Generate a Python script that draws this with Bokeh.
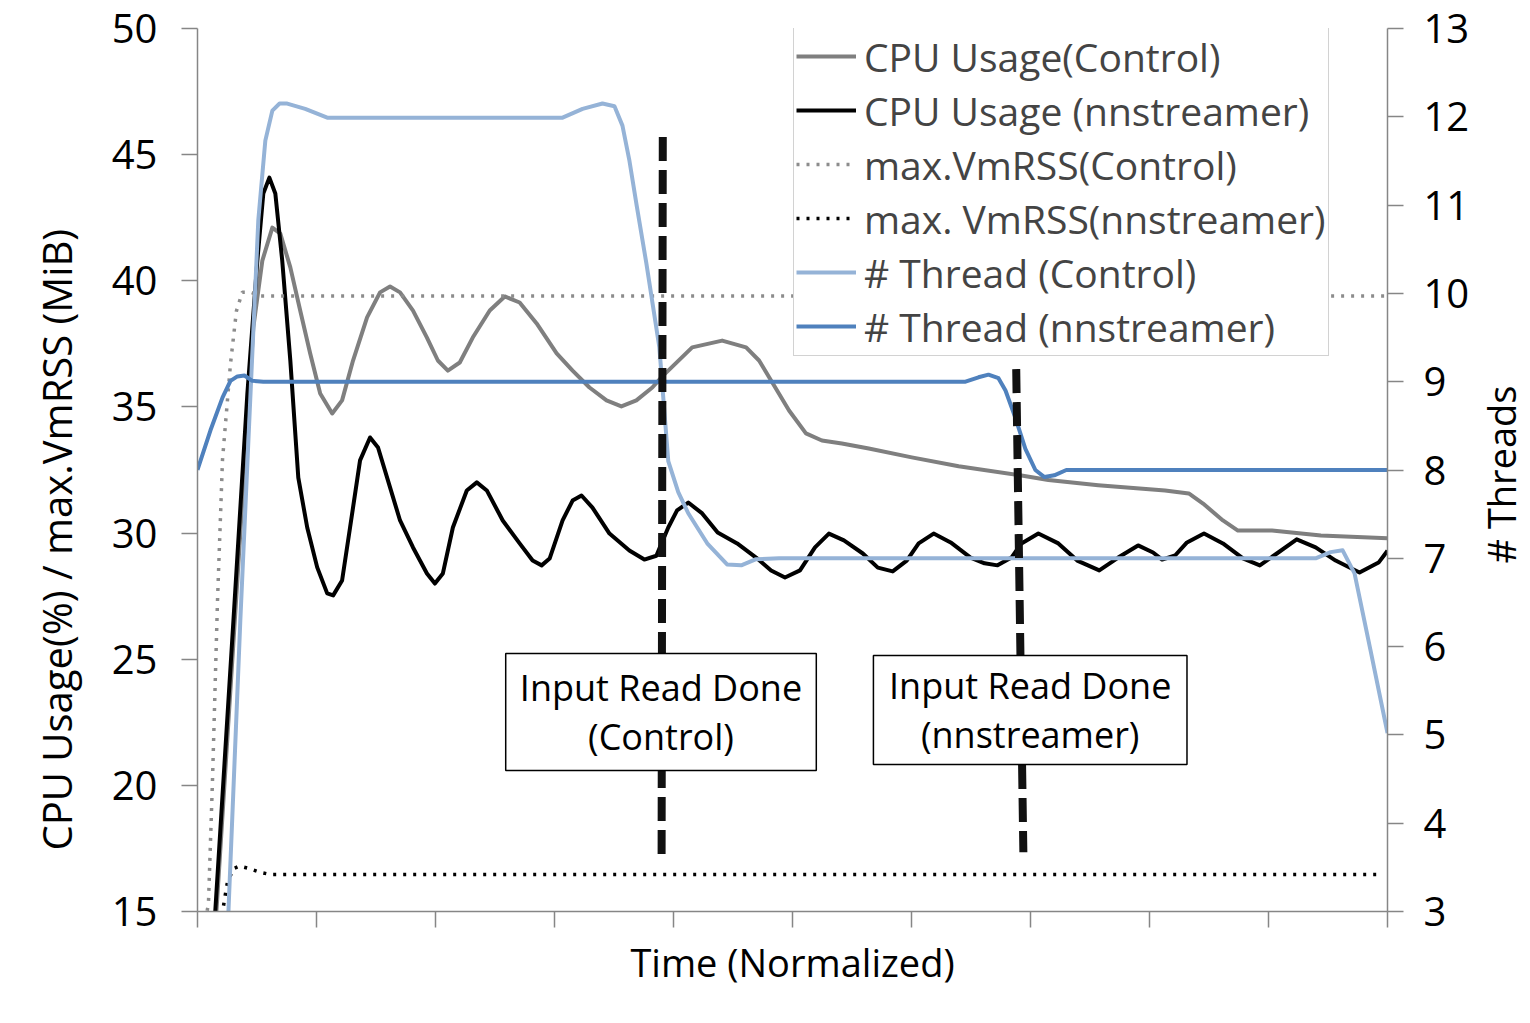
import math
from bokeh.plotting import figure
from bokeh.layouts import row
from bokeh.models import (Range1d, LinearAxis, Legend, LegendItem, BoxAnnotation,
                          Label, FixedTicker, ColumnDataSource, Title)
from bokeh.embed import file_html
from bokeh.resources import INLINE

# ---------------- data (x = normalized time 0..100) ----------------
cpu_ctrl_x = [1.51, 4.69, 5.45, 6.29, 6.96, 7.8, 8.63, 9.47, 10.31, 11.32, 12.15, 13.07, 14.25,
              15.34, 16.18, 17.02, 18.11, 19.28, 20.2, 21.04, 22.04, 23.13, 24.56, 25.82, 27.07,
              28.5, 30.18, 31.52, 32.94, 34.37, 35.62, 36.88, 38.22, 39.06, 41.57, 44.09, 46.1,
              47.19, 48.2, 49.71, 51.13, 52.47, 54.15, 56.41, 60.02, 63.96, 68.99, 71.5, 75.69,
              81.31, 83.3, 84.5, 86.17, 87.43, 90.3, 94.4, 100.0]
cpu_ctrl = [14.4, 38.15, 40.8, 42.11, 41.87, 40.53, 38.82, 37.12, 35.53, 34.74, 35.26, 36.84, 38.55,
            39.54, 39.77, 39.54, 38.82, 37.75, 36.84, 36.44, 36.76, 37.75, 38.82, 39.38, 39.14,
            38.31, 37.12, 36.44, 35.77, 35.26, 35.02, 35.26, 35.77, 36.21, 37.36, 37.63, 37.36,
            36.84, 36.05, 34.86, 33.95, 33.67, 33.55, 33.35, 33.0, 32.65, 32.3, 32.1, 31.9,
            31.69, 31.57, 31.17, 30.5, 30.1, 30.1, 29.9, 29.79]

cpu_nn_x = [1.42, 3.02, 4.19, 5.03, 5.53, 6.04, 6.54, 7.12, 7.8, 8.47, 9.22, 10.06, 10.9, 11.4,
            12.15, 12.82, 13.66, 14.5, 15.17, 16.18, 17.02, 18.11, 19.28, 19.95, 20.62, 21.46,
            22.63, 23.47, 24.31, 25.65, 27.07, 28.16, 28.92, 29.59, 30.68, 31.52, 32.27, 33.19,
            34.62, 36.29, 37.55, 38.56, 39.0, 39.56, 40.3, 41.24, 42.41, 43.71, 45.35, 46.94,
            48.2, 49.37, 50.63, 51.89, 53.06, 54.32, 55.91, 57.17, 58.42, 59.6, 60.6, 61.86,
            63.29, 64.96, 66.14, 67.23, 68.4, 69.24, 70.66, 72.34, 73.93, 75.78, 77.37, 79.04,
            80.3, 81.06, 82.15, 83.15, 84.58, 86.17, 87.85, 89.27, 90.7, 92.37, 93.96, 95.64,
            97.65, 99.25, 100.0]
cpu_nn = [14.45, 26.54, 35.53, 40.8, 43.46, 44.09, 43.46, 40.8, 36.84, 32.2, 30.22, 28.64, 27.61, 27.53,
          28.12, 30.22, 32.88, 33.79, 33.39, 31.81, 30.5, 29.43, 28.4, 28.0, 28.4, 30.22,
          31.69, 32.01, 31.69, 30.5, 29.59, 28.91, 28.72, 28.99, 30.5, 31.29, 31.49, 31.01,
          29.98, 29.31, 28.95, 29.1, 29.6, 30.22, 30.9, 31.21, 30.78, 30.02, 29.59, 29.03,
          28.52, 28.24, 28.52, 29.43, 29.98, 29.71, 29.19, 28.63, 28.48, 28.91, 29.59, 29.98,
          29.63, 29.03, 28.8, 28.72, 29.03, 29.59, 29.98, 29.59, 28.91, 28.52, 29.03, 29.51,
          29.23, 28.95, 29.11, 29.63, 29.98, 29.59, 29.0, 28.72, 29.19, 29.75, 29.43, 28.91,
          28.44, 28.83, 29.3]

rss_ctrl_x = [0.5, 0.92, 1.26, 1.68, 2.1, 2.77, 3.27, 3.77, 4.44, 5.28, 100.0]
rss_ctrl = [14.25, 15.3, 20.2, 27.3, 32.9, 36.7, 38.8, 39.55, 39.55, 39.4, 39.4]

rss_nn_x = [1.93, 2.26, 2.51, 3.02, 3.52, 4.36, 5.28, 6.12, 99.6]
rss_nn = [14.45, 15.45, 16.15, 16.7, 16.8, 16.7, 16.55, 16.47, 16.47]

thr_ctrl_x = [2.6, 3.6, 5.11, 5.7, 6.29, 6.9, 7.54, 9.05, 10.9, 30.68, 32.36, 34.03,
              35.04, 35.71, 36.3, 36.9, 37.72, 38.81, 39.56, 40.4, 41.24, 42.83, 44.5, 45.69,
              46.94, 48.87, 93.96, 95.22, 96.23, 97.23, 98.57, 100.0]
thr_ctrl = [3.0, 6.3, 10.83, 11.73, 12.07, 12.15, 12.15, 12.09, 11.99, 11.99, 12.09, 12.15,
            12.12, 11.9, 11.5, 11.0, 10.34, 9.39, 8.1, 7.75, 7.51, 7.17, 6.93, 6.92,
            6.99, 7.0, 7.0, 7.07, 7.09, 6.83, 5.96, 5.02]

thr_nn_x = [0.0, 1.09, 2.1, 2.77, 3.35, 3.94, 4.61, 5.53, 64.54, 65.63, 66.47, 67.31, 67.9,
            68.73, 69.57, 70.41, 71.17, 72.0, 73.01, 100.0]
thr_nn = [8.0, 8.45, 8.82, 9.01, 9.06, 9.07, 9.01, 9.0, 9.0, 9.05, 9.08, 9.04, 8.9,
          8.59, 8.24, 8.0, 7.92, 7.94, 8.0, 8.0]

# "Input Read Done" markers (start/end of dashed marker line, left-axis units)
event_x0 = [39.1, 68.8]
event_y0 = [45.7, 36.5]
event_x1 = [39.0, 69.4]
event_y1 = [17.2, 17.35]
event_labels = ["Input Read Done\n(Control)", "Input Read Done\n(nnstreamer)"]

left_ticks = [15, 20, 25, 30, 35, 40, 45, 50]
right_ticks = [3, 4, 5, 6, 7, 8, 9, 10, 11, 12, 13]
x_ticks = [0, 10, 20, 30, 40, 50, 60, 70, 80, 90, 100]

FONT = "Open Sans"
AXIS_GRAY = "#868686"

p = figure(width=1472, height=1023, output_backend="svg", toolbar_location=None,
           x_range=Range1d(0, 100), y_range=Range1d(15, 50),
           min_border_left=197, min_border_right=82, min_border_top=28, min_border_bottom=112)
p.outline_line_color = None
p.xgrid.visible = False
p.ygrid.visible = False
p.background_fill_color = "white"
p.border_fill_color = "white"

p.extra_y_ranges = {"thr": Range1d(3, 13)}

# axes
xa = p.xaxis[0]
xa.ticker = FixedTicker(ticks=x_ticks)
xa.major_label_overrides = {t: "" for t in x_ticks}
xa.major_label_standoff = 0
xa.axis_label = "Time (Normalized)"
xa.axis_label_text_font_size = "38px"
xa.axis_label_standoff = 8

ya = p.yaxis[0]
ya.ticker = FixedTicker(ticks=left_ticks)

ra = LinearAxis(y_range_name="thr", ticker=FixedTicker(ticks=right_ticks))
p.add_layout(ra, "right")

for ax in (xa, ya, ra):
    ax.axis_line_color = AXIS_GRAY
    ax.axis_line_width = 1.5
    ax.major_tick_line_color = AXIS_GRAY
    ax.major_tick_line_width = 1.5
    ax.major_tick_in = 0
    ax.major_tick_out = 16
    ax.minor_tick_line_color = None
    ax.major_label_text_font = FONT
    ax.major_label_text_color = "black"
    ax.axis_label_text_font = FONT
    ax.axis_label_text_font_style = "normal"
    ax.axis_label_text_color = "black"
for ax in (ya, ra):
    ax.major_label_text_font_size = "40px"
ya.major_label_standoff = 24
ra.major_label_standoff = 20

# left axis title (offset along the axis as in the original)
ytitle = Title(text="CPU Usage(%) / max.VmRSS (MiB)", align="left", offset=61,
               text_font=FONT, text_font_size="40px", text_font_style="normal",
               text_color="black", standoff=50)
p.add_layout(ytitle, "left")

# series
r_cc = p.line(cpu_ctrl_x, cpu_ctrl, line_color="#7f7f7f", line_width=4, line_join="round")
r_cn = p.line(cpu_nn_x, cpu_nn, line_color="#000000", line_width=4, line_join="round")
r_rc = p.line(rss_ctrl_x, rss_ctrl, line_color="#8c8c8c", line_width=3.5, line_dash="3 7")
r_rn = p.line(rss_nn_x, rss_nn, line_color="#000000", line_width=3.5, line_dash="3 7")
r_tc = p.line(thr_ctrl_x, thr_ctrl, line_color="#95b3d7", line_width=4, line_join="round",
              y_range_name="thr")
r_tn = p.line(thr_nn_x, thr_nn, line_color="#4f81bd", line_width=4, line_join="round",
              y_range_name="thr")

# event dashed markers
seg_src = ColumnDataSource(dict(x0=event_x0, y0=event_y0, x1=event_x1, y1=event_y1))
p.segment("x0", "y0", "x1", "y1", source=seg_src, line_color="#111111", line_width=8,
          line_dash="24 9")

# annotation boxes with text
box_specs = [(25.9, 52.0, 25.23, 20.59), (56.8, 83.15, 25.15, 20.83)]
for (l, r, t, b), txt in zip(box_specs, event_labels):
    p.add_layout(BoxAnnotation(left=l, right=r, top=t, bottom=b, fill_color="white",
                               fill_alpha=1.0, line_color="black", line_width=1.5,
                               line_alpha=1.0))
    p.add_layout(Label(x=(l + r) / 2, y=(t + b) / 2, text=txt, text_align="center",
                       text_baseline="middle", text_font=FONT, text_font_size="36px",
                       text_line_height=1.0, text_color="black"))

legend = Legend(items=[
    LegendItem(label="CPU Usage(Control)", renderers=[r_cc]),
    LegendItem(label="CPU Usage (nnstreamer)", renderers=[r_cn]),
    LegendItem(label="max.VmRSS(Control)", renderers=[r_rc]),
    LegendItem(label="max. VmRSS(nnstreamer)", renderers=[r_rn]),
    LegendItem(label="# Thread (Control)", renderers=[r_tc]),
    LegendItem(label="# Thread (nnstreamer)", renderers=[r_tn]),
], location=(596, 555))
legend.label_text_font = FONT
legend.label_text_font_size = "39px"
legend.label_height = 54
legend.glyph_height = 54
legend.glyph_width = 60
legend.label_standoff = 8
legend.spacing = 0
legend.padding = 2
legend.margin = 0
legend.border_line_color = "#a6a6a6"
legend.border_line_width = 1.5
legend.background_fill_color = "white"
legend.background_fill_alpha = 1.0
p.add_layout(legend, "center")

# right-hand axis title, in a narrow side strip so that it reads bottom-to-top
# (the strip's frame is aligned with the main frame, so it shares the left-axis y scale)
side = figure(width=58, height=1023, output_backend="svg", toolbar_location=None,
              x_range=Range1d(0, 58), y_range=Range1d(15, 50),
              min_border=0, min_border_left=0, min_border_right=0,
              min_border_top=0, min_border_bottom=0)
side.axis.visible = False
side.xgrid.visible = False
side.ygrid.visible = False
side.outline_line_color = None
side.border_fill_color = "white"
side.background_fill_color = "white"
side.add_layout(Label(x=28, y=32.32, text="# Threads", angle=math.pi / 2, text_align="center",
                      text_baseline="middle", text_font=FONT, text_font_size="38px",
                      text_color="black"))

layout = row(p, side, spacing=0)
open("out.html", "w").write(file_html(layout, INLINE))
